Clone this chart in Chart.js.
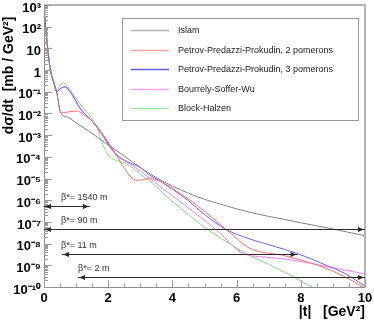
<!DOCTYPE html>
<html><head><meta charset="utf-8">
<script src="https://cdn.jsdelivr.net/npm/chart.js@4.4.1/dist/chart.umd.min.js"></script>
<style>html,body{margin:0;padding:0;background:#fff}canvas{display:block}</style>
</head><body>
<canvas id="c" width="374" height="322"></canvas>
<script>
// ---- data ----
const seriesNames = ['Islam', 'Petrov-Predazzi-Prokudin, 2 pomerons', 'Petrov-Predazzi-Prokudin, 3 pomerons', 'Bourrely-Soffer-Wu', 'Block-Halzen'];

const tIslam = [0, 0.05, 0.1, 0.15, 0.2, 0.3, 0.4, 0.45, 0.5, 0.75, 1.0, 1.5, 2.0, 2.5, 3.0, 3.5, 4.0, 4.5, 5.0, 5.5, 6.0, 6.5, 7.0, 7.5, 8.0, 8.5, 9.0, 9.5, 10];
const islam  = [6.3e2, 1.0e2, 1.6e1, 3.5, 1.0, 2.8e-1, 8.9e-2, 3.5e-2, 1.2e-2, 6.6e-3, 3.7e-3, 1.2e-3, 3.5e-4, 1.1e-4, 3.2e-5, 1.1e-5, 4.5e-6, 2.1e-6, 1.1e-6, 6.6e-7, 4.0e-7, 2.6e-7, 1.8e-7, 1.3e-7, 9.1e-8, 6.6e-8, 4.7e-8, 3.3e-8, 2.3e-8];

const tPPP2 = [0, 0.05, 0.1, 0.15, 0.2, 0.3, 0.4, 0.45, 0.5, 0.6, 0.8, 1.0, 1.15, 1.3, 1.55, 1.85, 2.15, 2.45, 2.68, 2.9, 3.1, 3.3, 3.6, 4.0, 4.55, 5.1, 5.64, 5.9, 6.1, 6.3, 6.6, 7.0, 7.4, 7.8, 8.3, 8.8, 9.4, 10];
const ppp2  = [6.3e2, 1.0e2, 1.6e1, 3.5, 1.0, 2.8e-1, 8.9e-2, 3.2e-2, 1.4e-2, 1.1e-2, 1.2e-2, 1.3e-2, 1.1e-2, 7.6e-3, 3.8e-3, 1.0e-3, 2.2e-4, 4.0e-5, 1.3e-5, 8.3e-6, 8.9e-6, 1.0e-5, 7.6e-6, 3.5e-6, 1.0e-6, 2.4e-7, 4.8e-8, 2.4e-8, 1.3e-8, 7.6e-9, 4.7e-9, 3.6e-9, 3.0e-9, 2.1e-9, 1.3e-9, 7.2e-10, 2.8e-10, 8.9e-11];

const tPPP3 = [0, 0.05, 0.1, 0.15, 0.2, 0.3, 0.4, 0.5, 0.65, 0.8, 0.95, 1.12, 1.4, 1.65, 1.85, 2.05, 2.25, 2.5, 2.7, 3.0, 3.3, 3.6, 4.0, 4.48, 5.0, 5.64, 6.2, 7.0, 7.87, 8.8, 9.4, 10];
const ppp3  = [6.3e2, 1.0e2, 1.6e1, 3.5, 1.0, 2.8e-1, 1.0e-1, 1.4e-1, 1.7e-1, 1.1e-1, 5.0e-2, 1.8e-2, 6.3e-3, 2.4e-3, 8.9e-4, 3.2e-4, 1.3e-4, 7.1e-5, 5.0e-5, 3.2e-5, 1.4e-5, 7.9e-6, 3.2e-6, 1.0e-6, 2.2e-7, 4.8e-8, 2.1e-8, 8.9e-9, 3.6e-9, 1.0e-9, 4.0e-10, 1.1e-10];

const tBSW = [0, 0.05, 0.1, 0.15, 0.2, 0.3, 0.4, 0.5, 0.65, 0.8, 0.95, 1.12, 1.4, 1.65, 1.85, 2.05, 2.25, 2.5, 2.7, 3.0, 3.3, 3.7, 4.18, 4.8, 5.33, 5.64, 5.95, 6.2, 6.5, 7.0, 7.8, 8.8, 9.4, 10];
const bsw  = [6.3e2, 1.0e2, 1.6e1, 3.5, 1.0, 2.8e-1, 9.5e-2, 1.3e-1, 1.6e-1, 1.0e-1, 4.5e-2, 1.6e-2, 6.3e-3, 2.4e-3, 8.3e-4, 2.8e-4, 1.2e-4, 6.6e-5, 4.5e-5, 2.2e-5, 1.0e-5, 3.5e-6, 1.0e-6, 2.0e-7, 4.8e-8, 1.8e-8, 6.3e-9, 3.5e-9, 2.7e-9, 2.3e-9, 1.7e-9, 8.7e-10, 6.0e-10, 4.0e-10];

const tBH = [0, 0.05, 0.1, 0.15, 0.2, 0.3, 0.4, 0.5, 0.6, 0.75, 0.9, 1.12, 1.4, 1.64, 1.8, 1.95, 2.1, 2.3, 2.55, 2.8, 3.05, 3.3, 3.93, 4.5, 5.07, 5.53, 6.0, 6.42, 7.0, 7.66, 8.0, 8.4, 8.6];
const bh  = [6.3e2, 1.0e2, 1.6e1, 3.5, 1.0, 3.2e-1, 1.1e-1, 2.1e-1, 2.5e-1, 1.7e-1, 7.9e-2, 2.8e-2, 8.9e-3, 2.5e-3, 5.0e-4, 1.6e-4, 8.9e-5, 6.6e-5, 5.0e-5, 2.8e-5, 1.4e-5, 7.6e-6, 1.1e-6, 2.2e-7, 4.8e-8, 1.7e-8, 6.3e-9, 2.8e-9, 1.1e-9, 3.6e-10, 1.9e-10, 8.9e-11, 5.6e-11];

const yTickValues = [1e3, 1e2, 1e1, 1, 1e-1, 1e-2, 1e-3, 1e-4, 1e-5, 1e-6, 1e-7, 1e-8, 1e-9, 1e-10];
const yTickLabels = ['10³', '10²', '10', '1', '10⁻¹', '10⁻²', '10⁻³', '10⁻⁴', '10⁻⁵', '10⁻⁶', '10⁻⁷', '10⁻⁸', '10⁻⁹', '10⁻¹⁰'];
const xTickValues = [0, 2, 4, 6, 8, 10];
const xTickLabels = ['0', '2', '4', '6', '8', '10'];

// beam optics annotations (t range and level of each arrow)
const betaLabels = ['β*= 1540 m', 'β*= 90 m', 'β*= 11 m', 'β*= 2 m'];
const betaLevel  = [5.5e-7, 4.8e-8, 3.3e-9, 2.9e-10];
const betaFrom   = [0, 0, 0.56, 1.06];
const betaTo     = [1.43, 10, 7.9, 10];
const betaTextT  = [0.53, 0.53, 0.53, 1.06];

// ---- styling ----
const FONT = "'Liberation Sans', Arial, Helvetica, sans-serif";
Chart.defaults.font.family = FONT;
const colors = ['#808080', '#ff6a6a', '#6464ff', '#ff78ff', '#80dc80'];
const legendColors = ['#b0b0b0', '#f7a0a0', '#6060e6', '#f4a4f4', '#a6e6a6'];

function pts(ts, vs) { return ts.map((t, i) => ({x: t, y: vs[i]})); }
const seriesT = [tIslam, tPPP2, tPPP3, tBSW, tBH];
const seriesV = [islam, ppp2, ppp3, bsw, bh];

const datasets = seriesNames.map((name, i) => ({
  label: name,
  data: pts(seriesT[i], seriesV[i]),
  borderColor: colors[i],
  backgroundColor: colors[i],
  borderWidth: 1,
  pointRadius: 0,
  fill: false,
  cubicInterpolationMode: 'monotone'
}));

const decor = {
  id: 'decor',
  afterDraw(chart) {
    const {ctx, chartArea: {left, right, top, bottom}, scales: {x, y}} = chart;
    ctx.save();
    // frame
    ctx.strokeStyle = '#b4b4b4'; ctx.lineWidth = 2;
    ctx.beginPath(); ctx.moveTo(left, top); ctx.lineTo(right, top); ctx.lineTo(right, bottom); ctx.stroke();
    ctx.strokeStyle = '#8c8c8c'; ctx.lineWidth = 1;
    ctx.beginPath(); ctx.moveTo(left + 0.5, top); ctx.lineTo(left + 0.5, bottom + 0.5); ctx.lineTo(right, bottom + 0.5); ctx.stroke();
    // y ticks (log major + minor), inside
    ctx.strokeStyle = '#9a9a9a';
    ctx.beginPath();
    for (let e = -10; e <= 3; e++) {
      for (let m = 1; m <= 9; m++) {
        const v = m * Math.pow(10, e);
        if (v > y.max * 1.0001) break;
        const py = Math.round(y.getPixelForValue(v)) + 0.5;
        const len = m === 1 ? 8 : 4;
        ctx.moveTo(left, py); ctx.lineTo(left + len, py);
      }
    }
    ctx.stroke();
    // x ticks, inside
    ctx.beginPath();
    for (let k = 0; k <= 20; k++) {
      const px = Math.round(x.getPixelForValue(k * 0.5)) + 0.5;
      const len = k % 4 === 0 ? 7 : 3.5;
      ctx.moveTo(px, bottom); ctx.lineTo(px, bottom - len);
    }
    ctx.stroke();

    // beta* arrows
    ctx.save();
    ctx.beginPath(); ctx.rect(left, top, right - left, bottom - top); ctx.clip();
    ctx.strokeStyle = '#2a2a2a'; ctx.fillStyle = '#2a2a2a'; ctx.lineWidth = 1;
    betaLabels.forEach((lab, i) => {
      const py = Math.round(y.getPixelForValue(betaLevel[i])) + 0.5;
      const x1 = x.getPixelForValue(betaFrom[i]);
      const x2 = x.getPixelForValue(betaTo[i]);
      ctx.beginPath(); ctx.moveTo(x1, py); ctx.lineTo(x2, py); ctx.stroke();
      ctx.beginPath(); ctx.moveTo(x1 + 1, py); ctx.lineTo(x1 + 7, py - 2.5); ctx.lineTo(x1 + 7, py + 2.5); ctx.closePath(); ctx.fill();
      ctx.beginPath(); ctx.moveTo(x2 - 1, py); ctx.lineTo(x2 - 7, py - 2.5); ctx.lineTo(x2 - 7, py + 2.5); ctx.closePath(); ctx.fill();
      ctx.font = '9px ' + FONT; ctx.textBaseline = 'middle'; ctx.textAlign = 'left';
      ctx.fillStyle = '#333';
      ctx.fillText(lab, x.getPixelForValue(betaTextT[i]), py - 8.5);
      ctx.fillStyle = '#2a2a2a';
    });
    ctx.restore();

    // legend box
    const bx = 122, by = 18, bw = 236, bh2 = 102;
    ctx.fillStyle = '#fff'; ctx.fillRect(bx, by, bw, bh2);
    ctx.strokeStyle = '#9a9a9a'; ctx.lineWidth = 1;
    ctx.strokeRect(bx + 0.5, by + 0.5, bw, bh2);
    ctx.font = '9px ' + FONT; ctx.textBaseline = 'middle'; ctx.textAlign = 'left';
    chart.data.datasets.forEach((ds, i) => {
      const ly = Math.round(by + 12 + i * 19.6) + 0.5;
      ctx.strokeStyle = legendColors[i]; ctx.lineWidth = 1.5;
      ctx.beginPath(); ctx.moveTo(bx + 9, ly); ctx.lineTo(bx + 47, ly); ctx.stroke();
      ctx.fillStyle = '#222';
      ctx.fillText(ds.label, bx + 56, ly);
    });
    ctx.restore();
  }
};

new Chart(document.getElementById('c'), {
  type: 'line',
  data: {datasets},
  plugins: [decor],
  options: {
    responsive: false,
    animation: false,
    devicePixelRatio: 1,
    layout: {padding: {top: 5, right: 9, left: 0, bottom: 0}},
    plugins: {legend: {display: false}, tooltip: {enabled: false}},
    scales: {
      x: {
        type: 'linear', min: 0, max: 10,
        grid: {display: false, drawTicks: false},
        border: {display: false},
        afterBuildTicks: s => { s.ticks = xTickValues.map(v => ({value: v})); },
        afterFit: s => { s.height = 35; s.paddingLeft = 0; s.paddingRight = 0; },
        ticks: {
          callback: (v, i) => xTickLabels[i],
          font: {size: 13, weight: 'bold'}, color: '#000', padding: 4, maxRotation: 0
        },
        title: {display: true, text: '|t|   [GeV²]', align: 'end', color: '#000',
                font: {size: 14, weight: 'bold'}, padding: {top: 0, bottom: 1}}
      },
      y: {
        type: 'logarithmic', min: 1e-10, max: 1e3,
        grid: {display: false, drawTicks: false},
        border: {display: false},
        afterBuildTicks: s => { s.ticks = yTickValues.map(v => ({value: v})); },
        afterFit: s => { s.width = 44; s.paddingTop = 0; s.paddingBottom = 0; },
        ticks: {
          callback: (v, i) => yTickLabels[i],
          font: {size: 13, weight: 'bold'}, color: '#000', padding: 3, labelOffset: 3
        },
        title: {display: true, text: 'dσ/dt  [mb / GeV²]   ', align: 'end', color: '#000',
                font: {size: 14, weight: 'bold'}, padding: {top: 1, bottom: 0}}
      }
    }
  }
});
</script>
</body></html>
